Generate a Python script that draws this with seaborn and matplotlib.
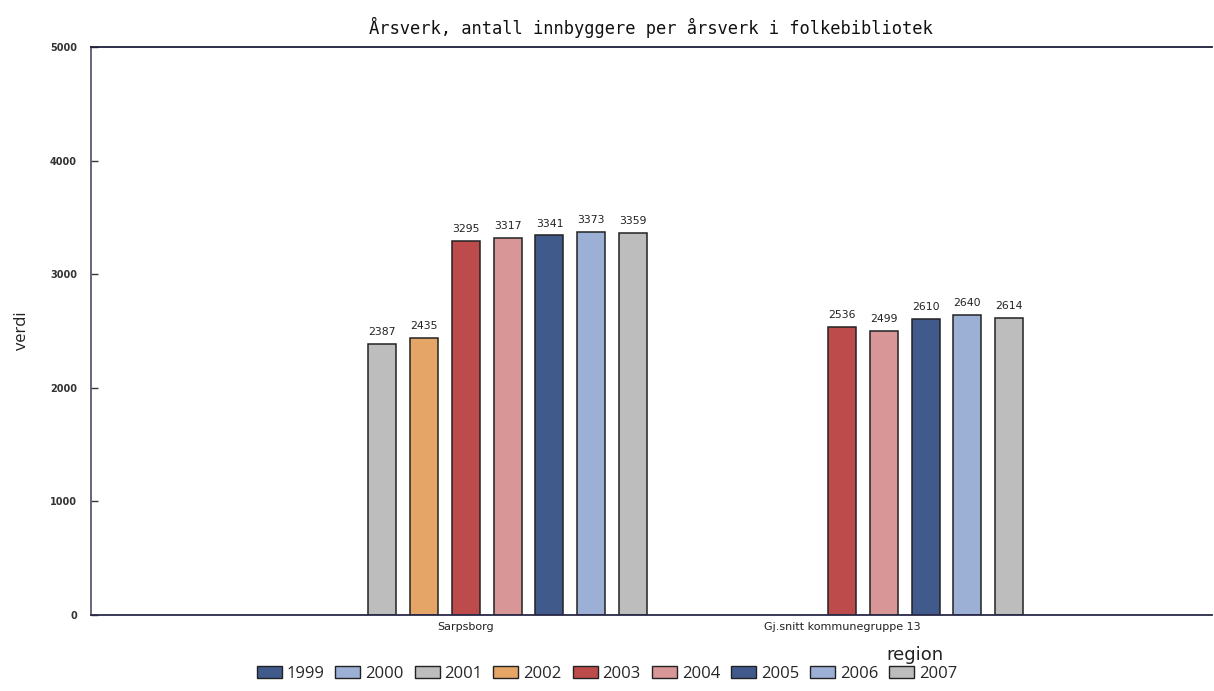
import matplotlib
matplotlib.use("Agg")
import matplotlib.pyplot as plt
import matplotlib.patches as mpatches
import seaborn as sns
import pandas as pd

# Years shown in the legend (all hue levels)
years = ["1999", "2000", "2001", "2002", "2003", "2004", "2005", "2006", "2007"]
year_colors = ["#405a8c", "#9cb0d6", "#bdbdbd", "#e4a566", "#be4b4b",
               "#d99696", "#405a8c", "#9cb0d6", "#bdbdbd"]

regions = ["Sarpsborg", "Gj.snitt kommunegruppe 13"]

sarpsborg_years = ["2001", "2002", "2003", "2004", "2005", "2006", "2007"]
sarpsborg_values = [2387, 2435, 3295, 3317, 3341, 3373, 3359]

gruppe_years = ["2003", "2004", "2005", "2006", "2007"]
gruppe_values = [2536, 2499, 2610, 2640, 2614]

df = pd.DataFrame({
    "region": [regions[0]] * len(sarpsborg_years) + [regions[1]] * len(gruppe_years),
    "year": sarpsborg_years + gruppe_years,
    "verdi": sarpsborg_values + gruppe_values,
})

sns.set_style("white")
plt.rcParams["font.family"] = ["DejaVu Sans"]

fig = plt.figure(figsize=(12.14, 6.91), dpi=100)
ax = fig.add_axes([91 / 1214, 1 - 615 / 691, (1212 - 91) / 1214, (615 - 47) / 691])

palette = dict(zip(years, year_colors))
sns.barplot(data=df, x="region", y="verdi", hue="year", hue_order=years,
            order=regions, palette=palette, width=1.0, gap=0.33,
            edgecolor="#222222", linewidth=1.1, saturation=1.0,
            errorbar=None, legend=False, ax=ax)

for cont in ax.containers:
    ax.bar_label(cont, fmt="%d", padding=5, fontsize=7.8, color="#222222")

ax.set_xlim(-0.997, 1.984)
ax.set_ylim(0, 5000)
ax.set_yticks([0, 1000, 2000, 3000, 4000, 5000])
ax.set_xticks([0, 1])
ax.set_xticklabels(regions, fontsize=8, color="#222222")
ax.tick_params(axis="x", length=0, pad=5)
ax.tick_params(axis="y", direction="in", length=5, width=1.0, labelsize=7,
               color="#333344", pad=10, left=True)
for lbl in ax.get_yticklabels():
    lbl.set_fontweight("bold")
    lbl.set_color("#333333")

for side in ["left", "bottom", "top"]:
    ax.spines[side].set_visible(True)
    ax.spines[side].set_linewidth(1.3)
ax.spines["left"].set_color("#5a5a70")
ax.spines["bottom"].set_color("#2a2a48")
ax.spines["top"].set_color("#1e1e3a")
ax.spines["right"].set_visible(False)

ax.set_xlabel("")
ax.set_ylabel("")
fig.text(22 / 1214, 1 - 331 / 691, "verdi", rotation=90, ha="center",
         va="center", fontsize=12, family="Open Sans", color="#222222")
fig.text(915 / 1214, 1 - 655 / 691, "region", ha="center", va="center",
         fontsize=13, family="DejaVu Sans", color="#222222")
fig.text(651 / 1214, 1 - 27 / 691,
         "Årsverk, antall innbyggere per årsverk i folkebibliotek",
         ha="center", va="center", fontsize=12.3, family="DejaVu Sans Mono",
         color="#111111")

handles = [mpatches.Patch(facecolor=c, edgecolor="#222222", linewidth=1.0, label=y)
           for y, c in zip(years, year_colors)]
fig.legend(handles=handles, loc="center", ncol=9,
           bbox_to_anchor=(607 / 1214, 1 - 674 / 691), frameon=False,
           handlelength=1.5, handleheight=0.7,
           handletextpad=0.3, columnspacing=0.65,
           prop={"family": "Open Sans", "size": 12})

fig.savefig("out.png", dpi=100)
